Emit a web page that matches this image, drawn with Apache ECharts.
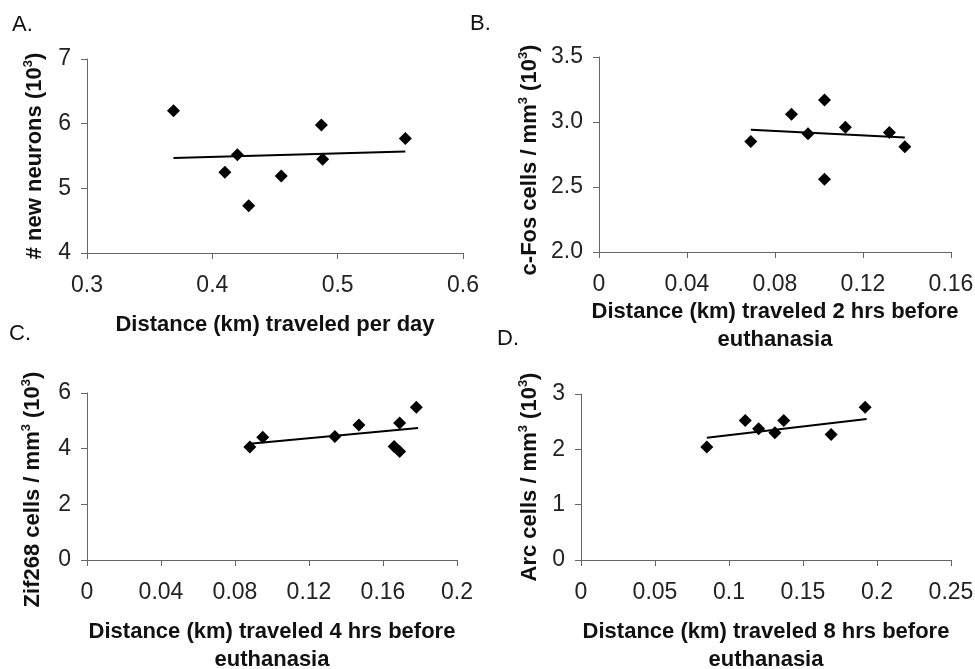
<!DOCTYPE html>
<html>
<head>
<meta charset="utf-8">
<script src="https://cdn.jsdelivr.net/npm/echarts@6/dist/echarts.min.js"></script>
<style>
    html, body { margin: 0; padding: 0; background: #fff; }
    #chart { width: 975px; height: 669px; }
</style>
</head>
<body>
<div id="chart"></div>
<script>
    // A. new neurons vs distance per day
    const aDist = [0.369, 0.410, 0.420, 0.429, 0.455, 0.487, 0.488, 0.554];
    const aNeurons = [6.20, 5.25, 5.52, 4.73, 5.19, 5.98, 5.45, 5.77];
    const aFitX = [0.369, 0.554];
    const aFitY = [5.47, 5.57];

    // B. c-Fos vs distance 2 hrs before
    const bDist = [0.069, 0.0875, 0.095, 0.1025, 0.1025, 0.112, 0.132, 0.139];
    const bFos = [2.85, 3.06, 2.91, 3.17, 2.56, 2.96, 2.92, 2.81];
    const bFitX = [0.069, 0.139];
    const bFitY = [2.94, 2.88];

    // C. Zif268 vs distance 4 hrs before
    const cDist = [0.088, 0.095, 0.134, 0.147, 0.166, 0.169, 0.169, 0.178];
    const cZif = [4.06, 4.41, 4.44, 4.85, 4.08, 3.90, 4.92, 5.49];
    const cFitX = [0.088, 0.179];
    const cFitY = [4.18, 4.74];

    // D. Arc vs distance 8 hrs before
    const dDist = [0.085, 0.111, 0.120, 0.131, 0.137, 0.169, 0.192];
    const dArc = [2.04, 2.52, 2.37, 2.30, 2.52, 2.27, 2.76];
    const dFitX = [0.085, 0.193];
    const dFitY = [2.21, 2.55];

    const panelLetters = ['A.', 'B.', 'C.', 'D.'];

    const font = '"Liberation Sans", Arial, Helvetica, sans-serif';
    const axisColor = '#666';

    // outerBoundsMode none: keep the grids where they are, v6 would shrink them otherwise
    const grids = [
        {left: 87, top: 59, width: 376, height: 194},
        {left: 599, top: 57, width: 352, height: 195},
        {left: 87, top: 393, width: 370, height: 167},
        {left: 581, top: 394, width: 370, height: 166}
    ].map(g => Object.assign(g, {outerBoundsMode: 'none', containLabel: false}));

    const titleRich = {
        t: {fontFamily: font, fontWeight: 'bold', fontSize: 22, color: '#111', lineHeight: 26},
        s: {fontFamily: font, fontWeight: 'bold', fontSize: 13, color: '#111', lineHeight: 26, verticalAlign: 'top'}
    };

    function xAxis(idx, min, max, step, name, gap, fmt) {
        return {
            type: 'value', gridIndex: idx, min: min, max: max, interval: step,
            name: name, nameLocation: 'middle', nameGap: gap,
            nameTextStyle: {fontFamily: font, fontWeight: 'bold', fontSize: 22, color: '#111', lineHeight: 28},
            axisLine: {onZero: false, lineStyle: {color: axisColor, width: 1}},
            axisTick: {show: true, length: 6, lineStyle: {color: axisColor}},
            axisLabel: {fontFamily: font, fontSize: 23, color: '#222', margin: 21, formatter: fmt},
            splitLine: {show: false}
        };
    }

    function yAxis(idx, min, max, step, name, gap, fmt, pad) {
        return {
            type: 'value', gridIndex: idx, min: min, max: max, interval: step,
            name: name, nameLocation: 'middle', nameGap: gap, nameRotate: 90,
            nameTextStyle: {rich: titleRich, padding: pad},
            axisLine: {show: true, onZero: false, lineStyle: {color: axisColor, width: 1}},
            axisTick: {show: true, length: 6, lineStyle: {color: axisColor}},
            axisLabel: {fontFamily: font, fontSize: 23, color: '#222', margin: 16, formatter: fmt},
            splitLine: {show: false}
        };
    }

    function pairs(xs, ys) {
        return xs.map((x, i) => [x, ys[i]]);
    }

    function panelSeries(idx, xs, ys, fx, fy) {
        return [
            {
                type: 'scatter', xAxisIndex: idx, yAxisIndex: idx,
                symbol: 'diamond', symbolSize: 13,
                itemStyle: {color: '#000', opacity: 1},
                data: pairs(xs, ys), z: 3
            },
            {
                type: 'line', xAxisIndex: idx, yAxisIndex: idx,
                symbol: 'none', lineStyle: {color: '#000', width: 2},
                data: pairs(fx, fy), z: 2
            }
        ];
    }

    const plain = v => String(Number(v.toFixed(4)));
    const oneDec = v => v.toFixed(1);

    const option = {
        animation: false,
        backgroundColor: '#fff',
        grid: grids,
        title: [
            {text: panelLetters[0], left: 12, top: 14},
            {text: panelLetters[1], left: 470, top: 13},
            {text: panelLetters[2], left: 9, top: 323},
            {text: panelLetters[3], left: 497, top: 328}
        ].map(t => Object.assign(t, {
            padding: 0,
            textStyle: {fontFamily: font, fontWeight: 'normal', fontSize: 22, color: '#111'}
        })),
        xAxis: [
            xAxis(0, 0.3, 0.6, 0.1, 'Distance (km) traveled per day', 58, plain),
            xAxis(1, 0, 0.16, 0.04, 'Distance (km) traveled 2 hrs before\neuthanasia', 46, plain),
            xAxis(2, 0, 0.2, 0.04, 'Distance (km) traveled 4 hrs before\neuthanasia', 58, plain),
            xAxis(3, 0, 0.25, 0.05, 'Distance (km) traveled 8 hrs before\neuthanasia', 58, plain)
        ],
        yAxis: [
            yAxis(0, 4, 7, 1, '{t|# new neurons (10}{s|3}{t|)}', 39, plain, 0),
            yAxis(1, 2, 3.5, 0.5, '{t|c-Fos cells / mm}{s|3}{t| (10}{s|3}{t|)}', 56, oneDec, [0, 11, 0, 0]),
            yAxis(2, 0, 6, 2, '{t|Zif268 cells / mm}{s|3}{t| (10}{s|3}{t|)}', 41, plain, [0, 26, 0, 0]),
            yAxis(3, 0, 3, 1, '{t|Arc cells / mm}{s|3}{t| (10}{s|3}{t|)}', 38, plain, 0)
        ],
        series: [].concat(
            panelSeries(0, aDist, aNeurons, aFitX, aFitY),
            panelSeries(1, bDist, bFos, bFitX, bFitY),
            panelSeries(2, cDist, cZif, cFitX, cFitY),
            panelSeries(3, dDist, dArc, dFitX, dFitY)
        )
    };

    const chart = echarts.init(document.getElementById('chart'), null, {renderer: 'canvas'});
    chart.setOption(option);
</script>
</body>
</html>
